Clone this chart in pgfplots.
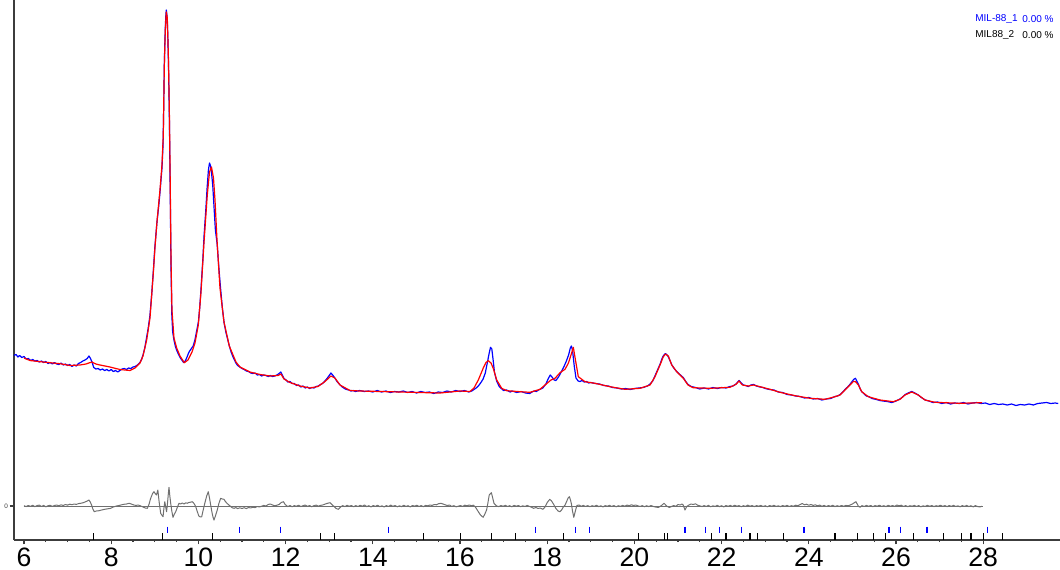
\documentclass[border=0pt]{standalone}
\usepackage{pgfplots}
\pgfplotsset{compat=1.18}
\usepackage{fontspec}
\setmainfont{Liberation Sans}

\definecolor{obs}{RGB}{0,0,255}
\definecolor{calc}{RGB}{255,0,0}
\definecolor{diffc}{RGB}{112,112,112}
\definecolor{axc}{RGB}{60,60,60}

\begin{document}
\begin{tikzpicture}
\begin{axis}[
  name=ax,
  scale only axis,
  width=523pt, height=270pt,
  xmin=5.771, xmax=29.761,
  ymin=-34, ymax=506,
  axis lines*=left,
  axis line style={axc, line width=0.7pt},
  xtick={6,8,...,28},
  minor x tick num=3,
  ytick={0},
  tick align=outside,
  major tick length=2.2pt,
  minor tick length=1.1pt,
  tick style={axc, line width=0.55pt},
  /pgf/number format/assume math mode=true,
  xticklabel style={font=\fontsize{13.3}{14}\selectfont, yshift=1.8pt},
  yticklabel style={font=\fontsize{3.2}{3.5}\selectfont, text=axc, inner sep=0.6pt},
  clip=false,
]

% observed pattern
\addplot[obs, line width=0.6pt, line join=round] coordinates {
(5.77,150.5) (5.82,151.5) (5.86,149) (5.90,150.5) (5.95,148.5) (6.00,149.5)
(6.05,147) (6.10,147.5) (6.15,145.5) (6.20,146.5) (6.25,145) (6.30,145.5)
(6.35,144) (6.40,145) (6.45,143.5) (6.50,144.5) (6.55,142.5) (6.60,143.5)
(6.65,142) (6.70,143.5) (6.75,142) (6.80,141.5) (6.85,143) (6.90,141)
(6.95,142) (7.00,140.5) (7.05,141.5) (7.10,139.5) (7.15,141) (7.20,140)
(7.25,142.5) (7.30,143.5) (7.35,145) (7.40,146) (7.45,147.5) (7.49,150)
(7.52,148) (7.56,144) (7.60,138.5) (7.65,137) (7.70,137.5) (7.75,136)
(7.80,137) (7.85,135.5) (7.90,136.5) (7.95,135) (8.00,136.5) (8.05,134.5)
(8.10,135.5) (8.15,134) (8.20,135.5) (8.25,137) (8.30,137.5) (8.35,136.5)
(8.40,138) (8.45,137.5) (8.50,139) (8.55,139.5) (8.60,141) (8.66,143.5)
(8.70,147) (8.73,151) (8.77,158) (8.81,168) (8.85,178) (8.89,191)
(8.93,212) (8.97,237) (9.00,258) (9.05,284) (9.09,300) (9.12,314)
(9.165,338) (9.19,362) (9.205,400) (9.218,440) (9.23,462) (9.241,478)
(9.253,490) (9.264,496) (9.276,492) (9.287,484) (9.30,468) (9.314,442)
(9.325,415) (9.337,380) (9.356,305) (9.372,240) (9.39,192) (9.41,174)
(9.44,166) (9.47,160) (9.50,156) (9.54,152) (9.58,148.5) (9.62,146)
(9.66,143.5) (9.70,145) (9.74,149) (9.77,152.5) (9.80,155) (9.84,157.5)
(9.88,160) (9.92,166) (9.96,175) (10.00,184) (10.03,198) (10.06,217)
(10.10,245) (10.13,270) (10.17,296) (10.20,318) (10.23,336) (10.255,343)
(10.28,340) (10.30,334) (10.33,320) (10.36,298) (10.39,276) (10.43,262)
(10.47,238) (10.50,222) (10.55,198) (10.59,183) (10.63,174) (10.67,167)
(10.71,160) (10.75,154) (10.80,148.5) (10.86,143) (10.90,140.5) (10.95,139)
(11.00,137.5) (11.05,136.5) (11.10,135) (11.15,134.5) (11.20,133) (11.25,132.5)
(11.30,133) (11.35,131) (11.40,131.5) (11.45,130) (11.50,131) (11.55,130.5)
(11.60,129.5) (11.65,130.5) (11.70,129.5) (11.75,130) (11.80,131) (11.85,132.5)
(11.89,134) (11.93,130.5) (11.97,127) (12.00,126.5) (12.05,124) (12.10,124.5)
(12.15,122.5) (12.20,122.5) (12.25,120.5) (12.30,121) (12.35,119) (12.40,120)
(12.45,118) (12.50,119) (12.55,117.5) (12.60,118.5) (12.65,118) (12.70,119.5)
(12.75,120) (12.80,121.5) (12.85,122.5) (12.90,125) (12.95,127.5) (13.00,130.5)
(13.04,133) (13.08,131) (13.13,128) (13.18,124.5) (13.25,121) (13.30,119)
(13.35,117.5) (13.40,116.5) (13.45,116) (13.50,115) (13.55,115.5) (13.60,114.5)
(13.70,115.5) (13.80,114.5) (13.90,115) (14.00,114) (14.10,115.5) (14.20,114)
(14.30,115) (14.40,113.5) (14.50,114.5) (14.60,114) (14.70,115) (14.80,113.5)
(14.90,114.5) (15.00,113) (15.10,114.5) (15.20,113.5) (15.30,114) (15.40,112.5)
(15.50,114) (15.60,113.5) (15.70,115) (15.80,114) (15.90,115.5) (16.00,114.5)
(16.10,115.5) (16.20,114) (16.27,115) (16.32,116.5) (16.37,118) (16.42,120)
(16.48,123.5) (16.53,127) (16.58,133) (16.63,144) (16.67,153) (16.70,158.7)
(16.73,157) (16.76,146) (16.79,134) (16.84,125) (16.90,119.5) (16.96,117)
(17.00,115.5) (17.07,116) (17.15,114) (17.20,115) (17.30,113.5) (17.40,114.5)
(17.50,113) (17.60,112.5) (17.65,114) (17.70,115) (17.75,114.5) (17.80,116)
(17.85,117) (17.90,118) (17.97,122) (18.02,127) (18.07,131) (18.11,129)
(18.16,126) (18.20,125.5) (18.26,129) (18.32,134) (18.38,139) (18.44,145)
(18.49,151) (18.53,158) (18.555,160) (18.58,156) (18.62,140) (18.66,128)
(18.71,125) (18.75,124.5) (18.80,125.5) (18.85,124) (18.90,124.5) (18.95,123)
(19.00,123.5) (19.10,122.5) (19.20,122) (19.30,120.5) (19.40,120) (19.50,118.5)
(19.60,118) (19.70,117) (19.80,117.5) (19.90,116.5) (20.00,117.5) (20.10,118)
(20.20,118.5) (20.30,120) (20.36,122) (20.42,125) (20.47,130) (20.53,136)
(20.59,142) (20.63,147) (20.66,150) (20.71,152.5) (20.75,151) (20.78,149)
(20.82,145) (20.86,141) (20.92,137) (20.97,134.5) (21.03,132) (21.08,130)
(21.12,128.5) (21.17,125) (21.23,121.5) (21.30,119.5) (21.40,118.5) (21.50,117)
(21.60,118) (21.70,117) (21.80,118.5) (21.90,117.5) (22.00,118.5) (22.10,118)
(22.19,119.5) (22.26,120) (22.33,122) (22.40,125.5) (22.45,123) (22.50,121)
(22.55,120.5) (22.61,119.5) (22.67,121) (22.73,121.5) (22.80,120) (22.88,119)
(22.95,118.5) (23.00,117.5) (23.10,116.5) (23.20,116) (23.30,114) (23.40,113.5)
(23.50,111.5) (23.60,111) (23.70,110) (23.80,109.5) (23.90,108) (24.00,108.5)
(24.10,107) (24.20,107.5) (24.30,106) (24.40,107) (24.50,107.5) (24.60,109.5)
(24.66,110) (24.72,111.5) (24.78,114) (24.83,116.5) (24.89,119) (24.95,122)
(25.00,125) (25.04,127) (25.07,127.7) (25.10,125) (25.14,121.5) (25.18,117)
(25.21,114.5) (25.27,112) (25.32,110) (25.37,109.5) (25.45,107.5) (25.55,106.5)
(25.63,105.5) (25.70,105) (25.80,104.5) (25.90,103.5) (25.94,104) (26.00,105)
(26.09,107) (26.15,109) (26.21,111.5) (26.28,113) (26.36,114.5) (26.43,113)
(26.51,111) (26.58,108.5) (26.67,106) (26.75,105) (26.85,103.5) (26.95,104)
(27.05,102.5) (27.15,103.5) (27.25,102) (27.35,103) (27.45,102.5) (27.55,103.5)
(27.65,102) (27.75,103) (27.85,103.5) (27.95,102.5) (28.05,103) (28.15,101.5)
(28.25,102.5) (28.35,101.5) (28.45,102) (28.55,101) (28.65,102) (28.75,100.5)
(28.85,101.5) (28.95,101) (29.05,102) (29.15,101) (29.25,102.5) (29.35,103)
(29.45,103.5) (29.55,102.5) (29.65,103) (29.72,102.5)
};

% calculated pattern
\addplot[calc, line width=0.6pt, line join=round] coordinates {
(6.000,148) (6.138,145.5) (6.436,144) (6.826,142.3) (7.055,140.5) (7.284,141)
(7.422,142) (7.500,143.2) (7.560,144) (7.600,143) (7.651,142) (7.743,141)
(7.972,139) (8.202,136.5) (8.431,135.5) (8.546,138) (8.661,143) (8.729,150)
(8.814,166) (8.890,188) (8.966,233) (9.005,259) (9.050,284) (9.119,316)
(9.165,341) (9.195,371) (9.218,439) (9.241,476) (9.264,494) (9.287,488)
(9.314,446) (9.337,386) (9.356,316) (9.372,246) (9.394,196) (9.440,168)
(9.502,158) (9.578,150) (9.677,143.3) (9.761,146) (9.853,154) (9.922,163)
(9.998,181) (10.060,214) (10.128,263) (10.204,311) (10.255,334) (10.300,339)
(10.346,328) (10.381,306) (10.427,266) (10.495,218) (10.587,184) (10.709,160)
(10.862,144) (10.954,139) (11.183,134) (11.413,131.5) (11.642,130) (11.826,130.5)
(11.894,132) (11.963,127) (12.101,123.5) (12.330,120) (12.560,118) (12.743,119.5)
(12.904,124.5) (13.039,130) (13.131,128) (13.248,121) (13.477,115.5) (13.706,115)
(14.165,114.5) (14.624,114) (15.083,113.5) (15.541,113) (16.000,115) (16.229,114.5)
(16.321,118) (16.420,126) (16.534,138) (16.596,143.5) (16.649,145.3) (16.711,143)
(16.764,137.5) (16.842,126) (16.956,117.7) (17.071,115.3) (17.376,114.3) (17.606,113.7)
(17.835,116.7) (17.950,121) (18.087,126) (18.179,127.7) (18.294,133.3) (18.408,136.7)
(18.484,142.7) (18.546,151) (18.599,158.7) (18.661,142.7) (18.713,129.3) (18.867,124.3)
(19.096,122.7) (19.440,119.3) (19.784,116.7) (20.128,117.7) (20.358,121) (20.472,129.3)
(20.587,141) (20.663,149.3) (20.713,152) (20.778,150) (20.856,141) (20.970,134.3)
(21.122,127.7) (21.229,121) (21.344,118.3) (21.734,117.7) (22.193,118.7) (22.330,121.7)
(22.399,125) (22.475,121) (22.612,120) (22.727,121) (22.881,119.3) (23.110,116.7)
(23.339,113.7) (23.683,110.3) (24.028,107.7) (24.372,106.7) (24.601,109.3) (24.716,111)
(24.830,116) (24.945,121) (25.021,124.5) (25.072,124.3) (25.136,121) (25.213,114.3)
(25.365,109.3) (25.633,106) (25.938,104.3) (26.092,106.7) (26.206,111) (26.360,114)
(26.511,111) (26.665,106) (26.894,103.7) (27.468,102.7) (27.972,103.3)
};

% zero line of the difference curve
\addplot[diffc, line width=0.5pt] coordinates {(6.0,0) (28.0,0)};

% difference (obs - calc)
\addplot[diffc, line width=0.5pt, line join=round] coordinates {
(6.00,0.3) (6.05,-0.6) (6.10,0.5) (6.15,-0.4) (6.20,0.8) (6.25,-0.7) (6.30,0.4)
(6.35,0.9) (6.40,-0.5) (6.45,0.6) (6.50,-0.8) (6.55,0.3) (6.60,0.7) (6.65,-0.4)
(6.70,0.5) (6.75,1.0) (6.80,0.2) (6.85,1.2) (6.90,0.5) (6.95,1.5) (7.00,0.9)
(7.05,1.8) (7.10,1.3) (7.15,2.0) (7.20,1.6) (7.25,2.4) (7.30,2.7) (7.35,3.2)
(7.40,4.0) (7.45,5.0) (7.49,6.0) (7.52,4.0) (7.55,1.0) (7.58,-3.0) (7.61,-5.7)
(7.66,-5.0) (7.72,-4.7) (7.78,-4.0) (7.85,-3.3) (7.92,-2.8) (7.99,-2.3) (8.05,-1.0)
(8.12,0.0) (8.18,0.5) (8.24,1.2) (8.29,1.7) (8.35,2.0) (8.41,2.7) (8.46,2.0)
(8.52,1.0) (8.57,0.6) (8.62,1.0) (8.68,0) (8.73,-1.0) (8.78,-2.0) (8.83,-2.3)
(8.87,2.0) (8.90,7.0) (8.92,9.3) (8.95,12.5) (8.98,14.3) (9.01,12.5) (9.04,11.0)
(9.07,16.0) (9.10,4.0) (9.135,-7.3) (9.16,-9.0) (9.19,-10.7) (9.21,-2.0) (9.23,4.3)
(9.25,-1.0) (9.27,-5.7) (9.29,2.0) (9.31,12.0) (9.326,18.7) (9.345,10.0) (9.365,2.7)
(9.39,-5.0) (9.417,-11.3) (9.45,-8.0) (9.48,-5.7) (9.52,-1.0) (9.555,2.7) (9.59,2.0)
(9.63,3.0) (9.67,2.0) (9.71,3.2) (9.745,2.7) (9.78,3.5) (9.82,3.8) (9.86,4.3)
(9.90,2.5) (9.94,-0.7) (9.97,-5.0) (10.01,-10.0) (10.045,-11.0) (10.076,-10.7) (10.10,-6.0)
(10.128,-0.7) (10.16,5.0) (10.19,10.0) (10.227,14.3) (10.255,8.0) (10.282,1.0) (10.31,-6.0)
(10.335,-11.0) (10.358,-14.0) (10.39,-10.0) (10.433,-4.0) (10.47,2.5) (10.51,7.7) (10.55,7.0)
(10.587,6.7) (10.62,4.5) (10.66,2.5) (10.70,1.0) (10.74,-0.5) (10.78,-1.8) (10.817,-2.3)
(10.86,-1.6) (10.90,-2.6) (10.95,-1.8) (11.00,-2.5) (11.05,-1.7) (11.10,-2.6) (11.15,-1.5)
(11.20,-2.0) (11.25,-1.2) (11.30,-1.6) (11.35,-0.5) (11.40,-1.0) (11.45,-0.2) (11.50,0.6)
(11.55,0.0) (11.60,1.5) (11.65,2.0) (11.70,1.0) (11.75,0.2) (11.80,0.8) (11.85,1.5)
(11.90,3.5) (11.95,4.3) (11.99,1.5) (12.05,-0.6) (12.10,0.5) (12.15,-0.8) (12.20,0.4)
(12.25,-0.3) (12.30,0.8) (12.35,-0.6) (12.40,0.3) (12.45,1.0) (12.50,-0.4) (12.55,0.5)
(12.60,-0.8) (12.65,0.3) (12.70,0.9) (12.75,-0.2) (12.80,0.6) (12.85,1.0) (12.90,1.8)
(12.95,2.6) (13.02,3.3) (13.06,1.5) (13.10,0.0) (13.16,-2.5) (13.21,-3.3) (13.26,-1.0)
(13.31,0.4) (13.36,-0.6) (13.41,0.7) (13.46,-0.3) (13.51,0.5) (13.56,-0.8) (13.61,0.4)
(13.66,-0.5) (13.71,0.7) (13.76,-0.2) (13.81,1.0) (13.86,-0.6) (13.91,0.3) (13.96,-0.9)
(14.01,0.5) (14.06,-0.4) (14.11,0.8) (14.16,-0.7) (14.21,0.2) (14.26,-1.0) (14.31,0.4)
(14.36,-0.5) (14.41,0.9) (14.46,-0.3) (14.51,0.5) (14.56,-0.8) (14.61,0.2) (14.66,-0.6)
(14.71,0.7) (14.76,-0.4) (14.81,0.3) (14.86,-0.9) (14.91,0.5) (14.96,-0.2) (15.01,0.8)
(15.06,-0.5) (15.11,0.4) (15.16,-0.7) (15.21,0.6) (15.26,0.2) (15.31,1.0) (15.36,0.6)
(15.41,1.5) (15.46,1.2) (15.51,2.3) (15.56,2.7) (15.61,2.0) (15.66,1.2) (15.71,0.5)
(15.76,1.0) (15.81,-0.4) (15.86,0.3) (15.91,-0.8) (15.96,-0.2) (16.01,0.5) (16.06,-0.5)
(16.11,0.8) (16.16,0.2) (16.21,1.0) (16.26,0.3) (16.31,0.8) (16.36,-1.5) (16.42,-5.7)
(16.47,-9.0) (16.53,-11.3) (16.57,-8.0) (16.61,-4.0) (16.64,3.0) (16.67,11.0) (16.72,13.3)
(16.75,8.0) (16.78,2.7) (16.84,0.0) (16.89,-0.6) (16.94,0.5) (16.99,-0.3) (17.04,0.7)
(17.09,-0.5) (17.14,0.3) (17.19,-0.8) (17.24,0.6) (17.29,-0.2) (17.34,0.5) (17.39,-0.7)
(17.44,0.2) (17.49,-0.5) (17.54,0.6) (17.59,-0.4) (17.64,-1.2) (17.69,-2.3) (17.74,-1.5)
(17.79,-2.5) (17.84,-2.0) (17.90,-3.3) (17.95,-1.0) (18.00,3.5) (18.06,6.7) (18.10,5.0)
(18.15,1.5) (18.20,-2.5) (18.25,-5.0) (18.29,-5.7) (18.33,-4.0) (18.37,-1.0) (18.41,1.0)
(18.45,5.0) (18.48,8.0) (18.51,9.3) (18.54,5.0) (18.56,1.0) (18.58,-5.0) (18.61,-11.3)
(18.64,-6.0) (18.68,0.5) (18.73,1.0) (18.78,-0.3) (18.83,0.6) (18.88,-0.5) (18.93,0.4)
(18.98,-0.7) (19.03,0.3) (19.08,-0.4) (19.13,0.8) (19.18,-0.6) (19.23,0.2) (19.28,-0.9)
(19.33,0.4) (19.38,-0.3) (19.43,0.7) (19.48,-0.5) (19.53,0.5) (19.58,-0.8) (19.63,0.3)
(19.68,-0.4) (19.73,0.6) (19.78,-0.2) (19.83,0.9) (19.88,0.3) (19.93,1.2) (19.98,0.5)
(20.03,1.0) (20.08,0.2) (20.13,-0.5) (20.18,0.4) (20.23,-0.8) (20.28,0.3) (20.33,-0.6)
(20.38,0.5) (20.43,-0.4) (20.48,-1.0) (20.55,-1.5) (20.62,0.5) (20.68,2.7) (20.74,0.0)
(20.80,-1.5) (20.85,-0.5) (20.90,0.5) (20.95,-0.3) (21.00,1.5) (21.05,1.0) (21.09,2.0)
(21.12,1.0) (21.16,-4.0) (21.20,-0.5) (21.25,1.0) (21.30,2.0) (21.35,1.5) (21.40,2.2)
(21.45,0.8) (21.50,0.2) (21.55,-0.6) (21.60,0.4) (21.65,-0.5) (21.70,0.6) (21.75,-0.8)
(21.80,0.2) (21.85,-0.4) (21.90,0.7) (21.95,-0.6) (22.00,0.3) (22.05,-0.9) (22.10,0.5)
(22.15,-0.3) (22.20,0.6) (22.25,-0.5) (22.30,0.8) (22.35,-0.2) (22.40,0.4) (22.45,-0.7)
(22.50,0.3) (22.55,-0.4) (22.60,0.9) (22.65,-0.3) (22.70,0.5) (22.75,-0.6) (22.80,0.4)
(22.85,-0.2) (22.90,0.6) (22.95,-0.5) (23.00,0.3) (23.05,-0.8) (23.10,0.5) (23.15,-0.3)
(23.20,0.7) (23.25,-0.4) (23.30,0.2) (23.35,-0.6) (23.40,0.5) (23.45,-0.3) (23.50,0.6)
(23.55,-0.5) (23.60,0.3) (23.65,-0.2) (23.70,0.8) (23.75,0.3) (23.80,1.5) (23.85,2.5)
(23.90,1.2) (23.95,1.8) (24.00,0.8) (24.05,1.5) (24.10,0.6) (24.15,1.2) (24.20,0.2)
(24.25,0.9) (24.30,-0.3) (24.35,0.6) (24.40,-0.5) (24.45,0.4) (24.50,-0.2) (24.55,0.7)
(24.60,-0.6) (24.65,0.3) (24.70,-0.4) (24.75,0.5) (24.80,-0.3) (24.85,0.6) (24.90,0.2)
(24.95,1.0) (25.00,2.0) (25.05,3.5) (25.08,4.3) (25.11,2.0) (25.14,-0.5) (25.18,-1.2)
(25.22,0.4) (25.27,-0.5) (25.32,0.6) (25.37,-0.3) (25.42,0.5) (25.47,-0.7) (25.52,0.4)
(25.57,-0.2) (25.62,0.8) (25.67,-0.5) (25.72,0.3) (25.77,-0.6) (25.82,0.7) (25.87,-0.3)
(25.92,0.5) (25.97,-0.4) (26.02,1.0) (26.07,0.2) (26.12,0.8) (26.17,-0.5) (26.22,0.4)
(26.27,-0.7) (26.32,0.3) (26.37,-0.2) (26.42,0.6) (26.47,-0.5) (26.52,0.4) (26.57,-0.8)
(26.62,0.2) (26.67,-0.4) (26.72,0.7) (26.77,-0.3) (26.82,0.5) (26.87,-0.6) (26.92,0.3)
(26.97,-0.2) (27.02,0.8) (27.07,-0.4) (27.12,0.4) (27.17,-0.7) (27.22,0.5) (27.27,-0.3)
(27.32,0.6) (27.37,-0.5) (27.42,0.2) (27.47,-0.8) (27.52,0.4) (27.57,-0.4) (27.62,0.6)
(27.67,-0.6) (27.72,0.3) (27.77,-0.9) (27.82,0.4) (27.87,-0.5) (27.92,-1.0) (27.97,-0.3)
};

% reflection positions, phase 1
\addplot[only marks, mark=|, mark size=1.65pt, mark options={obs, line width=0.55pt}] coordinates {
(9.30,-24) (10.94,-24) (11.88,-24) (14.36,-24) (17.74,-24) (18.64,-24)
(18.97,-24) (21.16,-24) (21.64,-24) (21.96,-24) (22.45,-24) (23.89,-24)
(25.84,-24) (26.10,-24) (26.71,-24) (28.09,-24)
};

% reflection positions, phase 2
\addplot[only marks, mark=|, mark size=1.65pt, mark options={black, line width=0.55pt}] coordinates {
(7.59,-30.7) (9.17,-30.7) (10.32,-30.7) (12.81,-30.7) (13.12,-30.7) (15.16,-30.7)
(16.02,-30.7) (16.73,-30.7) (17.28,-30.7) (18.37,-30.7) (20.10,-30.7) (20.70,-30.7)
(20.76,-30.7) (21.76,-30.7) (22.10,-30.7) (22.65,-30.7) (22.83,-30.7) (23.42,-30.7)
(24.60,-30.7) (25.11,-30.7) (25.48,-30.7) (25.76,-30.7) (26.41,-30.7) (27.08,-30.7)
(27.51,-30.7) (27.72,-30.7) (28.00,-30.7) (28.45,-30.7)
};

% phase list
\node[anchor=west, inner sep=0pt, text=obs, font=\fontsize{5}{6}\selectfont]
  at (rel axis cs:0.9187,0.965) {MIL-88\_1};
\node[anchor=west, inner sep=0pt, text=obs, font=\fontsize{5}{6}\selectfont]
  at (rel axis cs:0.9637,0.965) {0.00 \%};
\node[anchor=west, inner sep=0pt, text=black, font=\fontsize{5}{6}\selectfont]
  at (rel axis cs:0.9187,0.9345) {MIL88\_2};
\node[anchor=west, inner sep=0pt, text=black, font=\fontsize{5}{6}\selectfont]
  at (rel axis cs:0.9637,0.9345) {0.00 \%};
\end{axis}
\pgfresetboundingbox
\path ([shift={(-7pt,-14.5pt)}]ax.south west) rectangle (ax.north east);
\end{tikzpicture}
\end{document}
